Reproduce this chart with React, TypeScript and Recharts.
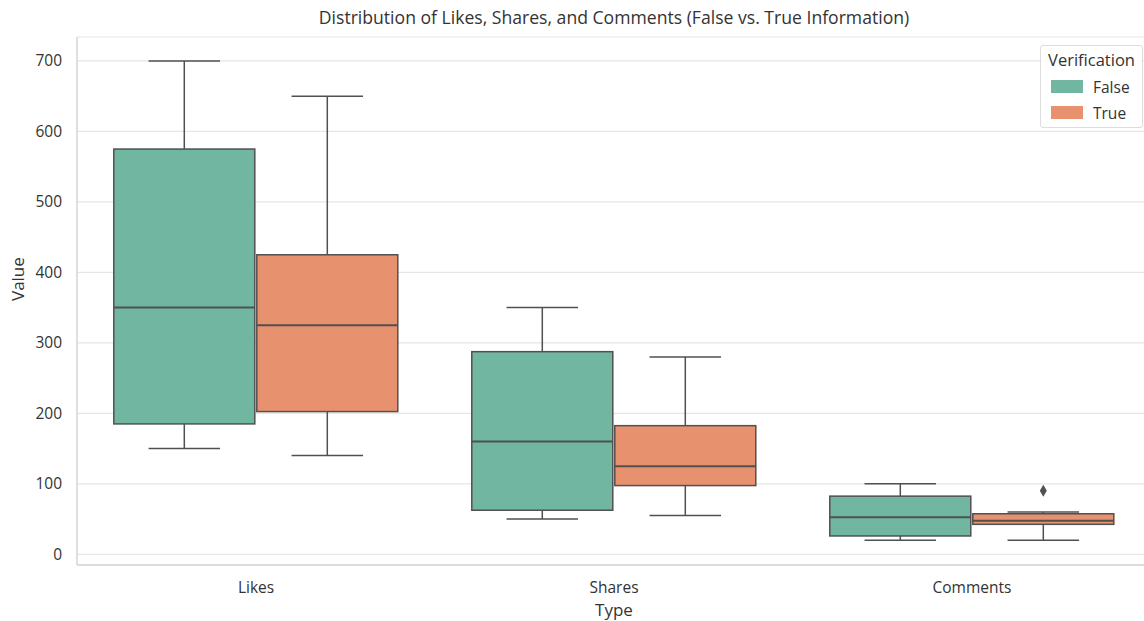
import React from 'react';
import { ComposedChart, Bar, XAxis, YAxis, CartesianGrid } from 'recharts';

const categories = ['Likes', 'Shares', 'Comments'];
const hues = ['False', 'True'];
const yTicks = [0, 100, 200, 300, 400, 500, 600, 700];

const falseLow = [150, 50, 20];
const falseQ1 = [185, 62.5, 26];
const falseMedian = [350, 160, 52.5];
const falseQ3 = [575, 287.5, 82.5];
const falseHigh = [700, 350, 100];
const falseOutliers: number[][] = [[], [], []];

const trueLow = [140, 55, 20];
const trueQ1 = [202.5, 97.5, 42.5];
const trueMedian = [325, 125, 47.5];
const trueQ3 = [425, 182.5, 57.5];
const trueHigh = [650, 280, 60];
const trueOutliers: number[][] = [[], [], [90]];

const COLORS = { False: '#71b6a0', True: '#e7916e' };
const LINE = '#505050';
const FONT = '"Open Sans", sans-serif';
const TEXT = '#333333';

const data = categories.map((type, i) => ({
  type,
  falseRange: [falseLow[i], falseHigh[i]],
  falseStats: { low: falseLow[i], q1: falseQ1[i], med: falseMedian[i], q3: falseQ3[i], high: falseHigh[i], out: falseOutliers[i] },
  trueRange: [trueLow[i], trueHigh[i]],
  trueStats: { low: trueLow[i], q1: trueQ1[i], med: trueMedian[i], q3: trueQ3[i], high: trueHigh[i], out: trueOutliers[i] },
}));

function makeBoxShape(key: 'falseStats' | 'trueStats', fill: string) {
  return (props: any) => {
    const { x, y, width, height, payload } = props;
    const s = payload[key];
    const span = s.high - s.low;
    const py = (v: number) => y + (height * (s.high - v)) / span;
    const cx = x + width / 2;
    const capHalf = width / 4;
    const bx = x + 1;
    const bw = width - 2;
    return (
      <g>
        <line x1={cx} x2={cx} y1={py(s.high)} y2={py(s.q3)} stroke={LINE} strokeWidth={1.5} />
        <line x1={cx} x2={cx} y1={py(s.q1)} y2={py(s.low)} stroke={LINE} strokeWidth={1.5} />
        <line x1={cx - capHalf} x2={cx + capHalf} y1={py(s.high)} y2={py(s.high)} stroke={LINE} strokeWidth={1.5} />
        <line x1={cx - capHalf} x2={cx + capHalf} y1={py(s.low)} y2={py(s.low)} stroke={LINE} strokeWidth={1.5} />
        <rect x={bx} y={py(s.q3)} width={bw} height={py(s.q1) - py(s.q3)} fill={fill} stroke={LINE} strokeWidth={1.5} />
        <line x1={bx} x2={bx + bw} y1={py(s.med)} y2={py(s.med)} stroke={LINE} strokeWidth={2} />
        {s.out.map((o: number, j: number) => {
          const oy = py(o);
          return (
            <path key={j} d={`M ${cx} ${oy - 6} L ${cx + 3.5} ${oy} L ${cx} ${oy + 6} L ${cx - 3.5} ${oy} Z`} fill={LINE} />
          );
        })}
      </g>
    );
  };
}

const FalseBox = makeBoxShape('falseStats', COLORS.False);
const TrueBox = makeBoxShape('trueStats', COLORS.True);

export default function App() {
  return (
    <div style={{ position: 'fixed', left: 0, top: 0, width: 1144, height: 621, overflow: 'hidden', background: '#fff', fontFamily: FONT }}>
      <div style={{ position: 'absolute', left: 0, top: 0 }}>
        <ComposedChart
          width={1160}
          height={621}
          data={data}
          margin={{ top: 37, right: 9, bottom: 26, left: 17 }}
          barCategoryGap="10%"
          barGap={0}
        >
          <CartesianGrid vertical={false} stroke="#e6e6e6" strokeWidth={1.2} />
          <XAxis
            dataKey="type"
            height={30}
            tickLine={false}
            tickSize={0}
            tickMargin={17}
            axisLine={{ stroke: '#d4d4d4', strokeWidth: 1.5 }}
            tick={{ fill: TEXT, fontSize: 15.5, fontFamily: FONT }}
            label={{ value: 'Type', position: 'insideBottom', offset: -21, fill: TEXT, fontSize: 17, fontFamily: FONT }}
          />
          <XAxis
            xAxisId="top"
            dataKey="type"
            orientation="top"
            height={0}
            tick={false}
            tickLine={false}
            axisLine={{ stroke: '#d4d4d4', strokeWidth: 1.5 }}
          />
          <YAxis
            width={60}
            domain={[-15.2, 734]}
            ticks={yTicks}
            allowDataOverflow
            tickLine={false}
            tickSize={0}
            tickMargin={15}
            axisLine={{ stroke: '#d4d4d4', strokeWidth: 1.5 }}
            tick={{ fill: TEXT, fontSize: 15.5, fontFamily: FONT }}
            label={{ value: 'Value', angle: -90, position: 'insideLeft', offset: 1, fill: TEXT, fontSize: 17, fontFamily: FONT }}
          />
          <Bar dataKey="falseRange" name={hues[0]} shape={FalseBox} isAnimationActive={false} />
          <Bar dataKey="trueRange" name={hues[1]} shape={TrueBox} isAnimationActive={false} />
        </ComposedChart>
      </div>
      <div
        style={{
          position: 'absolute',
          left: 614,
          top: 17,
          transform: 'translate(-50%, -50%)',
          whiteSpace: 'nowrap',
          fontSize: 17.6,
          lineHeight: '22px',
          color: TEXT,
        }}
      >
        Distribution of Likes, Shares, and Comments (False vs. True Information)
      </div>
      <div
        style={{
          position: 'absolute',
          left: 1040,
          top: 45,
          width: 103,
          height: 83,
          boxSizing: 'border-box',
          border: '1px solid #dddddd',
          borderRadius: 3,
          background: 'rgba(255,255,255,0.85)',
          color: TEXT,
          fontSize: 15.5,
        }}
      >
        <div style={{ position: 'absolute', left: 0, right: 0, top: 4, textAlign: 'center', fontSize: 16.5, lineHeight: '20px' }}>Verification</div>
        {hues.map((h, i) => (
          <React.Fragment key={h}>
            <span
              style={{
                position: 'absolute',
                left: 10,
                top: 34 + i * 26,
                width: 32,
                height: 13,
                background: COLORS[h as 'False' | 'True'],
              }}
            />
            <span style={{ position: 'absolute', left: 52, top: 31 + i * 26, lineHeight: '20px' }}>{h}</span>
          </React.Fragment>
        ))}
      </div>
    </div>
  );
}
